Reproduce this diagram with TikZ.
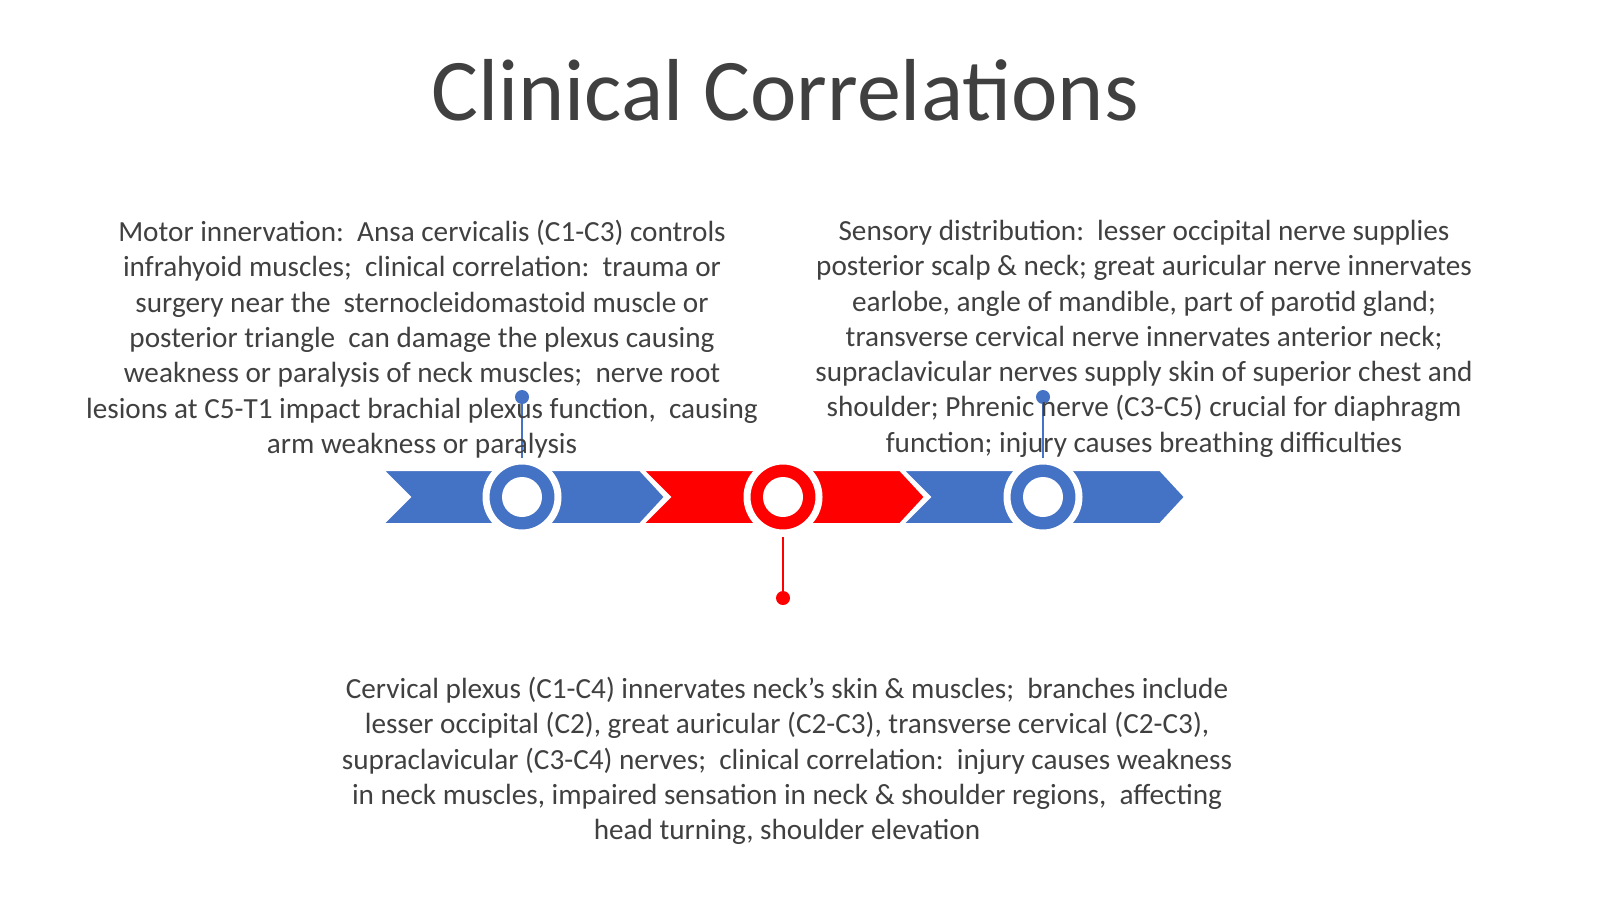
\documentclass[tikz,border=0pt]{standalone}
\usepackage{fontspec}
\setmainfont{Carlito}
\begin{document}
\begin{tikzpicture}[x=1pt,y=-1pt,
  body/.style={inner sep=0pt,align=center,text=txt,font=\fontsize{29.2}{35.3}\selectfont},
  chev/.style={draw=white,line width=2pt},
  ring/.style={circle,draw=white,line width=7pt,fill=#1,minimum size=72pt,inner sep=0pt},
  hole/.style={circle,fill=white,minimum size=40pt,inner sep=0pt},
  dot/.style={circle,fill=#1,minimum size=14pt,inner sep=0pt}]
\definecolor{txt}{HTML}{404040}
\definecolor{bl}{HTML}{4472C4}
\definecolor{rd}{HTML}{FF0000}
\useasboundingbox (0,0) rectangle (1600,899);
\fill[white] (0,0) rectangle (1600,899);
\node[inner sep=0pt,text=txt,font=\fontsize{88}{100}\selectfont] (title) at (785,90) {Clinical Correlations};
% chevrons
\foreach \x/\c [count=\i] in {383/bl,643/rd,903/bl}{
  \fill[\c,chev] (\x,470) -- (\x+257,470) -- (\x+282,497) -- (\x+257,524) -- (\x,524) -- (\x+27,497) -- cycle;
}
% stems
\node[dot=bl] (d1) at (522,397) {};
\node[dot=bl] (d3) at (1043,397) {};
\node[dot=rd] (d2) at (783,598) {};
\node[ring=bl] (c1) at (522,497) {};
\node[ring=rd] (c2) at (783,497) {};
\node[ring=bl] (c3) at (1043,497) {};
\draw[bl,line width=2.5pt] (d1) -- (c1.north);
\draw[bl,line width=2.5pt] (d3) -- (c3.north);
\draw[rd,line width=2.5pt] (c2.south) -- (d2);
\node[hole] at (c1) {};
\node[hole] at (c2) {};
\node[hole] at (c3) {};
\node[body,anchor=north] (t1) at (422,220) {Motor innervation:\ \ Ansa cervicalis (C1-C3) controls\\
infrahyoid muscles;\ \ clinical correlation:\ \ trauma or\\
surgery near the\ \ sternocleidomastoid muscle or\\
posterior triangle\ \ can damage the plexus causing\\
weakness or paralysis of neck muscles;\ \ nerve root\\
lesions at C5-T1 impact brachial plexus function,\ \ causing\\
arm weakness or paralysis};
\node[body,anchor=north] (t3) at (1144,220) {Sensory distribution:\ \ lesser occipital nerve supplies\\
posterior scalp \& neck; great auricular nerve innervates\\
earlobe, angle of mandible, part of parotid gland;\\
transverse cervical nerve innervates anterior neck;\\
supraclavicular nerves supply skin of superior chest and\\
shoulder; Phrenic nerve (C3-C5) crucial for diaphragm\\
function; injury causes breathing difficulties};
\node[body,anchor=north] (t2) at (787,677) {Cervical plexus (C1-C4) innervates neck's skin \& muscles;\ \ branches include\\
lesser occipital (C2), great auricular (C2-C3), transverse cervical (C2-C3),\\
supraclavicular (C3-C4) nerves;\ \ clinical correlation:\ \ injury causes weakness\\
in neck muscles, impaired sensation in neck \& shoulder regions,\ \ affecting\\
head turning, shoulder elevation};
\end{tikzpicture}
\end{document}
